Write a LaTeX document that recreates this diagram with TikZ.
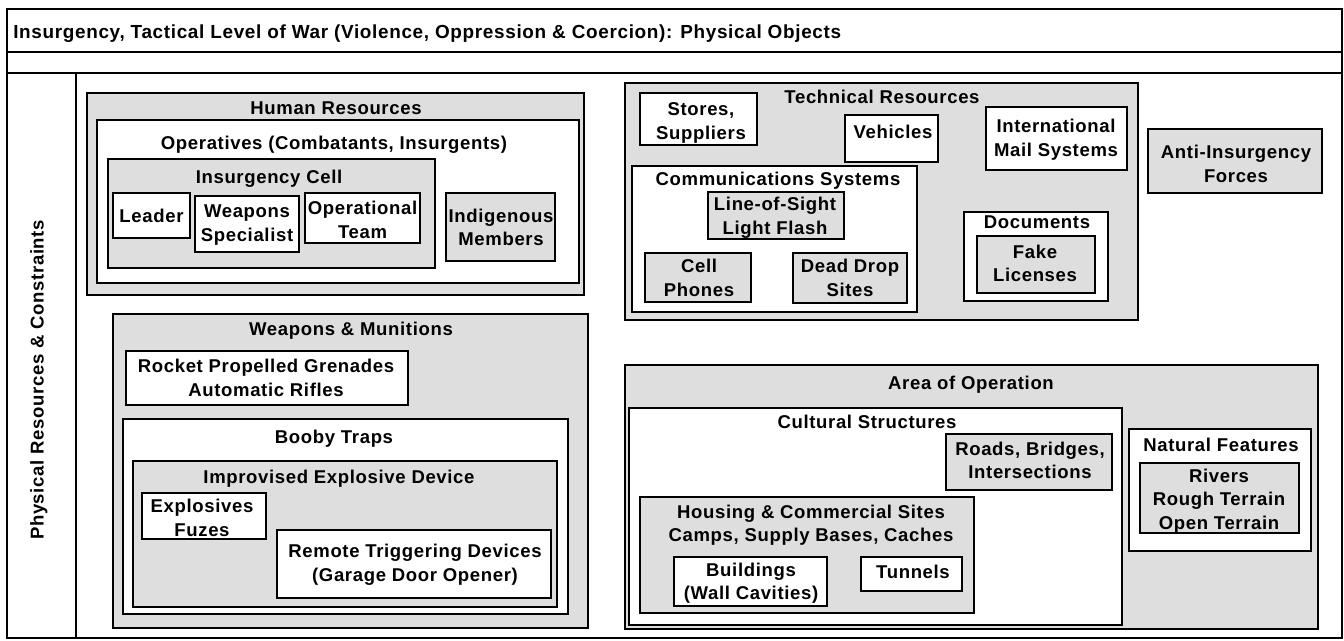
\documentclass[tikz,border=0pt]{standalone}
\usepackage{fontspec}
\newfontfamily\boxfont{Liberation Sans}[LetterSpace=3.5]
\usetikzlibrary{fit}
\definecolor{shade}{gray}{0.87}
\newcommand\tx[1]{\strut#1\strut}
\tikzset{
  frame/.style={draw, line width=1.1pt, inner sep=0pt, outer sep=0pt},
  wbox/.style={draw, line width=1.5pt, fill=white, inner sep=0pt, outer sep=0pt},
  gbox/.style={wbox, fill=shade},
  lbl/.style={font=\boxfont\bfseries\fontsize{13.9pt}{17.6pt}\selectfont,
              align=center, inner sep=0pt},
  headline/.style={lbl, font=\boxfont\bfseries\fontsize{14.2pt}{17.6pt}\selectfont},
}
\begin{document}
\begin{tikzpicture}[x=0.75pt, y=-0.75pt]
\useasboundingbox (0,0) rectangle (1344,641);

% page frame: title row, blank row, side column, body
\node[frame, fit={(7,9)(1342,52)}] (titlerow) {};
\node[frame, fit={(7,52)(1342,73)}] (blankrow) {};
\node[frame, fit={(7,73)(76,638)}] (sidecol) {};
\node[frame, fit={(76,73)(1342,638)}] (body) {};
\node[headline, anchor=west] (title) at (13,34)
  {\tx{Insurgency, Tactical Level of War (Violence, Oppression \& Coercion): Physical Objects}};
\node[lbl, rotate=90] (side) at (39,380) {\tx{Physical Resources \& Constraints}};

% human resources
\node[gbox, fit={(87,93)(584,295)}] (hr) {};
\node[lbl] (hrT) at (336,110) {\tx{Human Resources}};
\node[wbox, fit={(97,120)(579,283)}] (ops) {};
\node[lbl] (opsT) at (334,145) {\tx{Operatives (Combatants, Insurgents)}};
\node[gbox, fit={(108,159)(435,268)}] (cell) {};
\node[lbl] (cellT) at (269,179) {\tx{Insurgency Cell}};
\node[wbox, fit={(113,193)(190,238)}] (leader) {};
\node[lbl] (leaderT) at (151.5,218) {\tx{Leader}};
\node[wbox, fit={(195,196)(299,252)}] (wspec) {};
\node[lbl] (wspecT) at (247,225) {\tx{Weapons\\Specialist}};
\node[wbox, fit={(305,193)(420,243)}] (opteam) {};
\node[lbl] (opteamT) at (362.5,222) {\tx{Operational\\Team}};
\node[gbox, fit={(446,193)(555,261)}] (indig) {};
\node[lbl] (indigT) at (501,229.5) {\tx{Indigenous\\Members}};

% technical resources
\node[gbox, fit={(625,83)(1138,320)}] (tech) {};
\node[lbl] (techT) at (882,99) {\tx{Technical Resources}};
\node[wbox, fit={(640,93)(757,145)}] (stores) {};
\node[lbl] (storesT) at (701,123) {\tx{Stores,\\Suppliers}};
\node[wbox, fit={(845,115)(938,162)}] (veh) {};
\node[lbl] (vehT) at (893,134) {\tx{Vehicles}};
\node[wbox, fit={(986,107)(1127,170)}] (mail) {};
\node[lbl] (mailT) at (1056,140) {\tx{International\\Mail Systems}};
\node[wbox, fit={(632,166)(917,312)}] (comm) {};
\node[lbl] (commT) at (778,180.5) {\tx{Communications Systems}};
\node[gbox, fit={(708,192)(844,239)}] (los) {};
\node[lbl] (losT) at (775,218) {\tx{Line-of-Sight\\Light Flash}};
\node[gbox, fit={(645,253)(751,302)}] (cellph) {};
\node[lbl] (cellphT) at (699,280) {\tx{Cell\\Phones}};
\node[gbox, fit={(793,253)(907,303)}] (drop) {};
\node[lbl] (dropT) at (850,280) {\tx{Dead Drop\\Sites}};
\node[wbox, fit={(964,212)(1108,301)}] (docs) {};
\node[lbl] (docsT) at (1037,224) {\tx{Documents}};
\node[gbox, fit={(977,236)(1095,293)}] (fake) {};
\node[lbl] (fakeT) at (1035,265.5) {\tx{Fake\\Licenses}};

% opposing forces
\node[gbox, fit={(1148,129)(1322,193)}] (anti) {};
\node[lbl] (antiT) at (1236,166) {\tx{Anti-Insurgency\\Forces}};

% weapons and munitions
\node[gbox, fit={(113,314)(588,628)}] (weap) {};
\node[lbl] (weapT) at (351,330.5) {\tx{Weapons \& Munitions}};
\node[wbox, fit={(126,351)(408,405)}] (rpg) {};
\node[lbl] (rpgT) at (266,380) {\tx{Rocket Propelled Grenades\\Automatic Rifles}};
\node[wbox, fit={(123,419)(568,614)}] (booby) {};
\node[lbl] (boobyT) at (334,439) {\tx{Booby Traps}};
\node[gbox, fit={(133,461)(557,607)}] (ied) {};
\node[lbl] (iedT) at (339,479) {\tx{Improvised Explosive Device}};
\node[wbox, fit={(142,493)(266,539)}] (expl) {};
\node[lbl] (explT) at (202,520) {\tx{Explosives\\Fuzes}};
\node[wbox, fit={(277,530)(551,598)}] (remote) {};
\node[lbl] (remoteT) at (415,565) {\tx{Remote Triggering Devices\\(Garage Door Opener)}};

% area of operation
\node[gbox, fit={(625,365)(1318,629)}] (area) {};
\node[lbl] (areaT) at (971,385) {\tx{Area of Operation}};
\node[wbox, fit={(629,408)(1122,625)}] (cult) {};
\node[lbl] (cultT) at (867,424) {\tx{Cultural Structures}};
\node[gbox, fit={(946,434)(1112,490)}] (roads) {};
\node[lbl] (roadsT) at (1030,462.5) {\tx{Roads, Bridges,\\Intersections}};
\node[gbox, fit={(640,497)(974,613)}] (house) {};
\node[lbl] (houseT) at (811,525.5) {\tx{Housing \& Commercial Sites\\Camps, Supply Bases, Caches}};
\node[wbox, fit={(674,557)(827,606)}] (bldg) {};
\node[lbl] (bldgT) at (751,583.5) {\tx{Buildings\\(Wall Cavities)}};
\node[wbox, fit={(861,557)(962,591)}] (tunnel) {};
\node[lbl] (tunnelT) at (913,574) {\tx{Tunnels}};
\node[wbox, fit={(1129,429)(1311,551)}] (nat) {};
\node[lbl] (natT) at (1221,447) {\tx{Natural Features}};
\node[gbox, fit={(1140,463)(1299,533)}] (rivers) {};
\node[lbl] (riversT) at (1219,501) {\tx{Rivers\\Rough Terrain\\Open Terrain}};
\end{tikzpicture}
\end{document}
